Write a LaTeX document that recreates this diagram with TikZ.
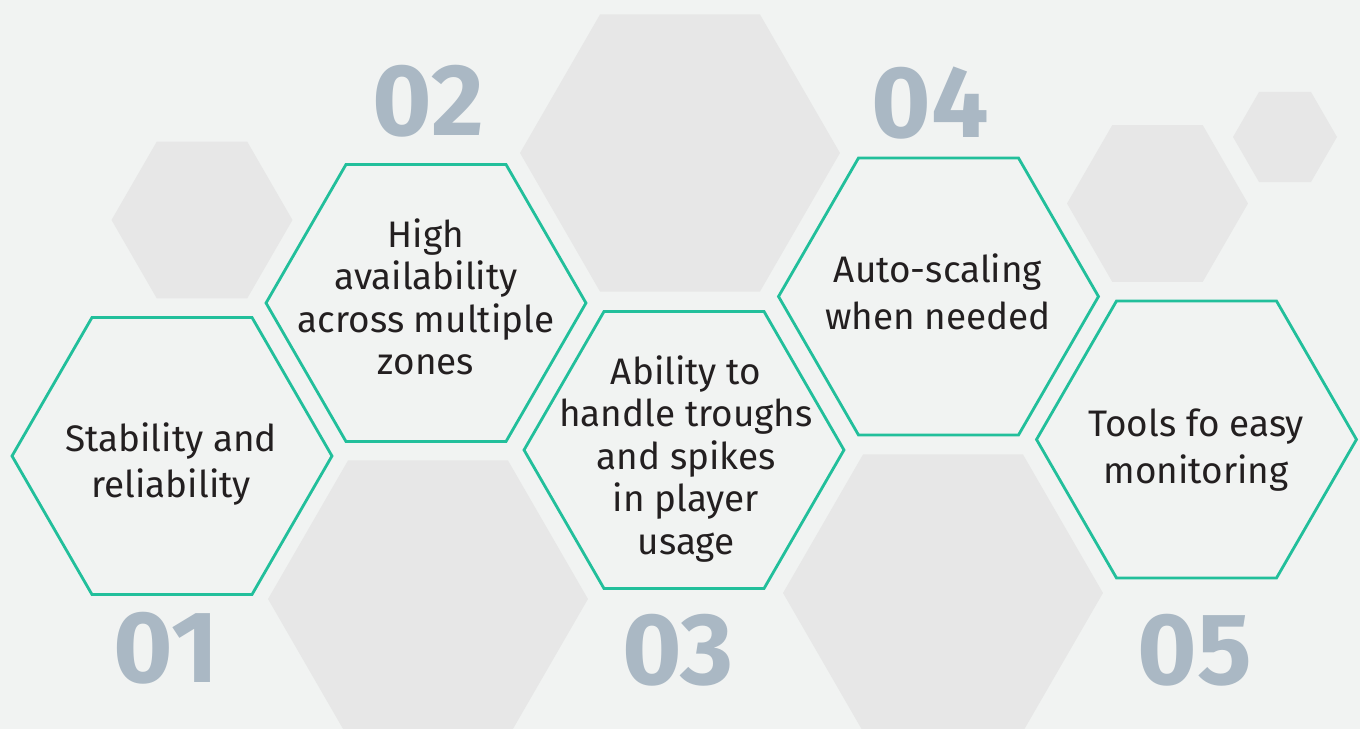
\documentclass[tikz,border=0pt]{standalone}
\usepackage{fontspec}
\setmainfont{Fira Sans}
\usetikzlibrary{shapes.geometric}
\definecolor{bgcol}{HTML}{F1F3F2}
\definecolor{hexgray}{HTML}{E7E7E7}
\definecolor{hexteal}{HTML}{22BF9B}
\definecolor{numgray}{HTML}{AAB8C4}
\definecolor{txtcol}{HTML}{231F20}
\tikzset{
  hexbase/.style={regular polygon, regular polygon sides=6, inner sep=0pt, outer sep=0pt},
  grayhex/.style={hexbase, fill=hexgray, minimum size=#1},
  tealhex/.style={hexbase, draw=hexteal, line width=1.6pt, minimum size=6.4cm},
  hextext/.style={text=txtcol, align=center, font=\fontsize{21}{#1}\selectfont},
  hextext/.default=24.2,
  numtext/.style={text=numgray, font=\fontsize{58}{60}\selectfont\bfseries}
}
\begin{document}
\begin{tikzpicture}[x=0.02cm, y=-0.02cm]
\clip (0,0) rectangle (1360,729);
\fill[bgcol] (0,0) rectangle (1360,729);

% gray background hexagons
\node[grayhex=3.62cm] (gA) at (202,220) {};
\node[grayhex=6.4cm] (gB) at (680,153) {};
\node[grayhex=6.4cm] (gC) at (428,599) {};
\node[grayhex=6.4cm] (gD) at (943,593) {};
\node[grayhex=3.62cm] (gE) at (1157.5,203.5) {};
\node[grayhex=2.08cm] (gF) at (1285,137) {};

% teal hexagons
\node[tealhex] (hA) at (172,456) {};
\node[tealhex] (hB) at (426,303) {};
\node[tealhex] (hC) at (684,450) {};
\node[tealhex] (hD) at (938.5,296.5) {};
\node[tealhex] (hE) at (1196.5,439.5) {};

% texts
\node[hextext=26.7] (tA) at (171,464) {Stability and\\reliability};
\node[hextext] (tB) at (426,297) {High\\availability\\across multiple\\zones};
\node[hextext] (tC) at (686,459) {Ability to\\handle troughs\\and spikes\\in player\\usage};
\node[hextext=26.7] (tD) at (938,292) {Auto-scaling\\when needed};
\node[hextext=26.7] (tE) at (1196,450) {Tools fo easy\\monitoring};

% numbers
\foreach \n/\x/\y in {01/166/648, 02/428/101.5, 03/678/650, 04/930/103, 05/1195/650}
  \node[numtext] (num\n) at (\x,\y) {\n};
\end{tikzpicture}
\end{document}
